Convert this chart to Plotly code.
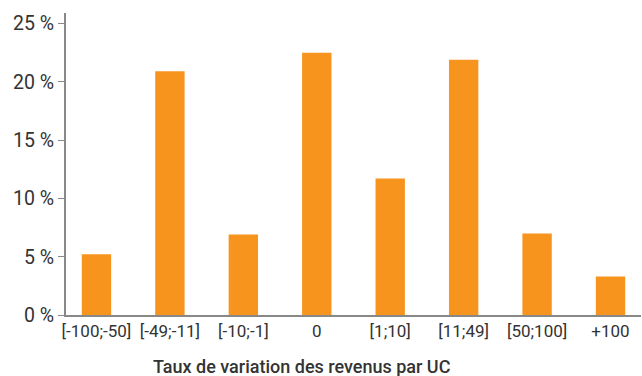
import plotly.graph_objects as go

categories = ["[-100;-50]", "[-49;-11]", "[-10;-1]", "0", "[1;10]", "[11;49]", "[50;100]", "+100"]
values = [5.2, 20.9, 6.9, 22.5, 11.7, 21.9, 7.0, 3.3]
y_ticks = [0, 5, 10, 15, 20, 25]
y_tick_labels = ["0 %", "5 %", "10 %", "15 %", "20 %", "25 %"]
x_title = "Taux de variation des revenus par UC"

fig = go.Figure(go.Bar(x=categories, y=values, marker=dict(color="#F7941D", line=dict(width=0)), width=0.4))

fig.update_layout(
    width=642, height=376,
    margin=dict(l=66, r=1, t=13, b=61, autoexpand=False),
    paper_bgcolor="white", plot_bgcolor="white",
    font=dict(family="Roboto", size=17, color="#333333"),
    showlegend=False,
    xaxis=dict(
        range=[-0.415, 7.415], showline=True, linecolor="#888888", linewidth=2,
        ticks="", showgrid=False, tickfont=dict(size=17, color="#333333"),
        automargin=False,
    ),
    yaxis=dict(
        range=[0, 25.9], tickvals=y_ticks, ticktext=y_tick_labels,
        showline=True, linecolor="#888888", linewidth=2,
        ticks="outside", ticklen=6, tickcolor="#888888", tickwidth=1,
        showgrid=False, zeroline=False, tickfont=dict(size=19.5, color="#333333"),
        automargin=False,
    ),
    annotations=[dict(
        text=x_title, x=(302 - 66) / 575, y=-(366 - 315) / 302, xref="paper", yref="paper",
        showarrow=False, xanchor="center", yanchor="middle",
        font=dict(family="Roboto", size=18, color="#333333", weight=500),
    )],
)

fig.write_html("out.html", config={"displayModeBar": False},
               post_script="document.body.style.margin='0px';document.body.style.overflow='hidden';")
